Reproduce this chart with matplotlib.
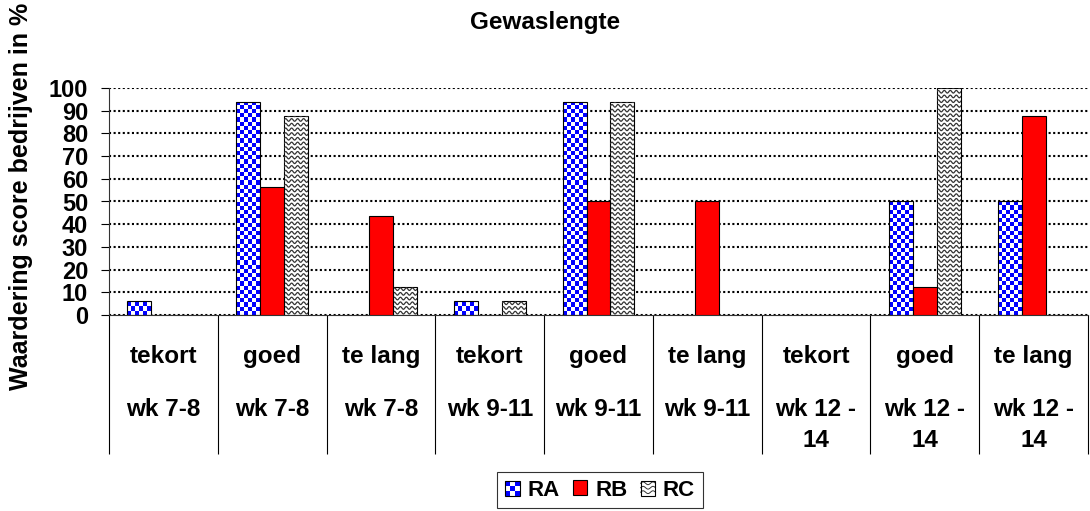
import numpy as np
import matplotlib
matplotlib.use("Agg")
import matplotlib.pyplot as plt
import matplotlib.transforms as mtransforms
from matplotlib.patches import Rectangle

plt.rcParams['font.family'] = ['Liberation Sans', 'DejaVu Sans']
plt.rcParams['font.weight'] = 'bold'

# data
categories = ["tekort", "goed", "te lang"] * 3
weeks = ["wk 7-8"] * 3 + ["wk 9-11"] * 3 + ["wk 12 -\n14"] * 3
ra = [6.25, 93.75, 0, 6.25, 93.75, 0, 0, 50, 50]
rb = [0, 56.25, 43.75, 0, 50, 50, 0, 12.5, 87.5]
rc = [0, 87.5, 12.5, 6.25, 93.75, 0, 0, 100, 0]
series_names = ["RA", "RB", "RC"]

W, H = 1090, 511
fig = plt.figure(figsize=(W / 100, H / 100), dpi=100)
ax_l, ax_r, ax_t, ax_b = 109, 1088, 88, 315
ax = fig.add_axes([ax_l / W, 1 - ax_b / H, (ax_r - ax_l) / W, (ax_b - ax_t) / H])

x = np.arange(len(categories))
bw = 0.22
px_x = (ax_r - ax_l) / len(categories)   # pixels per x unit
px_y = (ax_b - ax_t) / 100.0             # pixels per y unit

bars_a = ax.bar(x - bw, ra, bw, facecolor='none', edgecolor='black', lw=0.8, zorder=3)
bars_b = ax.bar(x, rb, bw, facecolor='#ff0000', edgecolor='black', lw=0.8, zorder=3)
bars_c = ax.bar(x + bw, rc, bw, facecolor='white', edgecolor='black', lw=0.8, zorder=2)

# checkerboard fill for RA
cell = 4.2
blue = np.array([0, 0, 1.0])
white = np.array([1.0, 1.0, 1.0])
for p in bars_a:
    if p.get_height() <= 0:
        continue
    nx = int(round(bw * px_x / cell))
    ny = int(np.ceil(p.get_height() * px_y / cell))
    img = np.zeros((ny, nx, 3))
    for i in range(ny):
        for j in range(nx):
            img[i, j] = blue if (i + j) % 2 == 0 else white
    im = ax.imshow(img, extent=(p.get_x(), p.get_x() + bw, 0, ny * cell / px_y),
                   origin='lower', aspect='auto', interpolation='nearest', zorder=2)
    im.set_clip_path(p)

# wavy fill for RC
dy = 4.7 / px_y
per = 6.0 / px_x
amp = 1.3 / px_y
for p in bars_c:
    h = p.get_height()
    if h <= 0:
        continue
    xs = np.linspace(p.get_x(), p.get_x() + bw, 80)
    for yy in np.arange(dy / 2, h + dy, dy):
        ln, = ax.plot(xs, yy + amp * np.sin(2 * np.pi * (xs - p.get_x()) / per),
                      color='#333333', lw=0.9, zorder=2.5)
        ln.set_clip_path(p)

ax.set_xlim(-0.5, len(categories) - 0.5)
ax.set_ylim(0, 100)
ax.set_yticks(np.arange(0, 101, 10))
ax.tick_params(axis='y', labelsize=17, length=6, width=0.8, pad=9)
ax.set_xticks(np.arange(-0.5, len(categories), 1.0))
ax.set_xticklabels([])
ax.tick_params(axis='x', length=100, width=0.8, direction='out')
ax.yaxis.grid(True, color='black', linestyle=(0, (1, 1.2)), lw=1.5)
ax.set_axisbelow(True)
for s in ['top', 'right']:
    ax.spines[s].set_visible(False)
for s in ['left', 'bottom']:
    ax.spines[s].set_color('#333333')
    ax.spines[s].set_linewidth(0.8)

# category labels below the axis
trans = mtransforms.blended_transform_factory(ax.transData, fig.transFigure)
for i in x:
    ax.text(i, 1 - 363 / H, categories[i], transform=trans, ha='center',
            va='baseline', fontsize=17.5)
    for k, line in enumerate(weeks[i].split('\n')):
        ax.text(i, 1 - (416 + 31 * k) / H, line, transform=trans, ha='center',
                va='baseline', fontsize=17.5)

fig.text(0.5, 1 - 29 / H, 'Gewaslengte', ha='center', va='baseline', fontsize=17.5)
fig.text(21 / W, 1 - 390 / H, 'Waardering score bedrijven in %', rotation=90,
         ha='center', va='bottom', fontsize=18)


class CheckerHandler:
    def legend_artist(self, legend, orig_handle, fontsize, handlebox):
        x0, y0 = handlebox.xdescent, handlebox.ydescent
        s = handlebox.height
        n = 3
        for i in range(n):
            for j in range(n):
                c = 'blue' if (i + j) % 2 == 0 else 'white'
                handlebox.add_artist(Rectangle((x0 + i * s / n, y0 + j * s / n), s / n, s / n,
                                               facecolor=c, edgecolor='none',
                                               transform=handlebox.get_transform()))
        frame = Rectangle((x0, y0), s, s, fill=False, edgecolor='black', lw=0.8,
                          transform=handlebox.get_transform())
        handlebox.add_artist(frame)
        return frame


class WaveHandler:
    def legend_artist(self, legend, orig_handle, fontsize, handlebox):
        x0, y0 = handlebox.xdescent, handlebox.ydescent
        s = handlebox.height
        xs = np.linspace(x0, x0 + s, 30)
        for yy in (0.25, 0.55, 0.85):
            handlebox.add_artist(plt.Line2D(xs, y0 + s * yy + 1.0 * np.sin(2 * np.pi * (xs - x0) / (s / 1.5)),
                                            color='#333333', lw=0.7,
                                            transform=handlebox.get_transform()))
        frame = Rectangle((x0, y0), s, s, fill=False, edgecolor='black', lw=0.8,
                          transform=handlebox.get_transform())
        handlebox.add_artist(frame)
        return frame


h_a = Rectangle((0, 0), 1, 1)
h_c = Rectangle((0, 0), 1, 1)
h_b = Rectangle((0, 0), 1, 1, facecolor='#ff0000', edgecolor='black', lw=0.8)
leg = fig.legend([h_a, h_b, h_c], series_names, loc='center',
                 bbox_to_anchor=(600 / W, 1 - 490 / H), ncol=3, fontsize=16,
                 handlelength=0.65, handleheight=0.65, handletextpad=0.35,
                 columnspacing=0.6, borderpad=0.35, fancybox=False,
                 handler_map={h_a: CheckerHandler(), h_c: WaveHandler()})
leg.get_frame().set_edgecolor('black')
leg.get_frame().set_linewidth(0.8)

fig.savefig('out.png', dpi=100)
